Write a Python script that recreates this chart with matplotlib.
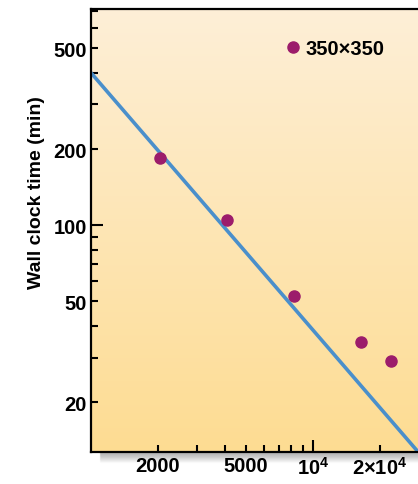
import numpy as np
import matplotlib
matplotlib.use("Agg")
import matplotlib.pyplot as plt
from matplotlib.ticker import FixedLocator, FuncFormatter
from matplotlib.colors import LinearSegmentedColormap

plt.rcParams['font.family'] = ['Liberation Sans', 'DejaVu Sans']
plt.rcParams['font.weight'] = 'bold'
plt.rcParams['axes.labelweight'] = 'bold'
plt.rcParams['mathtext.fontset'] = 'custom'
plt.rcParams['mathtext.rm'] = 'Liberation Sans:bold'

# datos
procesadores = [2048, 4096, 8192, 16384, 22500]
tiempo_min = [184, 105, 52.5, 34.4, 29]
ideal_x = [1000, 30000]
ideal_y = [400, 12.6]
etiqueta_serie = "350\u00d7350"

etiquetas_x = {2000: "2000", 5000: "5000", 10000: "$10^4$", 20000: "2\u00d7$10^4$"}
etiquetas_y = {20: "20", 50: "50", 100: "100", 200: "200", 500: "500"}

fig = plt.figure(figsize=(4.18, 4.85), dpi=100)
ax = fig.add_axes([91 / 418, 32 / 485, 340 / 418, 443 / 485])

# sombra bajo el eje
for i in range(10):
    fig.patches.append(plt.Rectangle((100 / 418, (32 - i - 1) / 485), 330 / 418, 1 / 485,
                                     transform=fig.transFigure, color='black',
                                     alpha=0.10 * (1 - i / 10), zorder=0))

# fondo degradado
cmap = LinearSegmentedColormap.from_list("fondo", ["#FDDC92", "#FEEFD7"])
grad = np.linspace(0, 1, 256).reshape(-1, 1)
ax.imshow(grad, aspect='auto', cmap=cmap, origin='lower', extent=[0, 1, 0, 1],
          transform=ax.transAxes, zorder=0)

ax.set_xscale('log')
ax.set_yscale('log')
ax.set_xlim(1000, 34000)
ax.set_ylim(12.7, 715)

ax.plot(ideal_x, ideal_y, color='#4A8FCB', lw=2.6, zorder=2)
ax.plot(procesadores, tiempo_min, 'o', color='#9C1C6B', ms=8, zorder=3, label=etiqueta_serie)

ax.xaxis.set_major_locator(FixedLocator([1e4]))
ax.xaxis.set_minor_locator(FixedLocator([2000, 3000, 4000, 5000, 6000, 7000, 8000, 9000, 20000]))
ax.yaxis.set_major_locator(FixedLocator([100]))
ax.yaxis.set_minor_locator(FixedLocator([20, 30, 40, 50, 60, 70, 80, 90, 200, 300, 400, 500, 600, 700]))

fmt_x = FuncFormatter(lambda v, p: etiquetas_x.get(int(round(v)), ""))
fmt_y = FuncFormatter(lambda v, p: etiquetas_y.get(int(round(v)), ""))
ax.xaxis.set_major_formatter(fmt_x)
ax.xaxis.set_minor_formatter(fmt_x)
ax.yaxis.set_major_formatter(fmt_y)
ax.yaxis.set_minor_formatter(fmt_y)

ax.tick_params(which='both', direction='in', width=1.5, labelsize=14.5, pad=3,
               top=False, right=False)
ax.tick_params(which='major', length=8.5)
ax.tick_params(which='minor', length=5)

for s in ['left', 'bottom', 'top']:
    ax.spines[s].set_linewidth(1.6)
ax.spines['right'].set_visible(False)

ax.set_ylabel("Wall clock time (min)", fontsize=14, labelpad=7)
ax.yaxis.set_label_coords(-0.135, 0.587)

ax.legend(loc='center left', bbox_to_anchor=(0.565, 0.91), frameon=False,
          handletextpad=0.1, handlelength=1.0, borderaxespad=0, borderpad=0,
          fontsize=14.5, markerscale=1)

fig.savefig("out.png", dpi=100)
